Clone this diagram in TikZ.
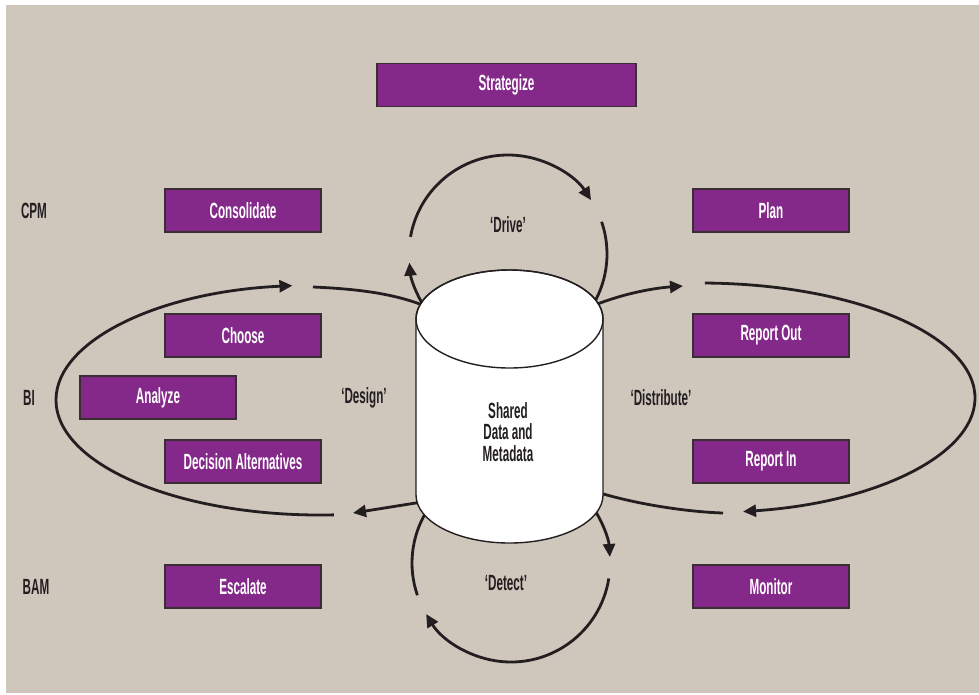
\documentclass[tikz,border=0pt]{standalone}
\usepackage{fontspec}
\setmainfont{Liberation Sans}[FakeStretch=0.53]
\usetikzlibrary{arrows.meta,calc}
\definecolor{bg}{HTML}{CFC6BC}
\definecolor{purp}{HTML}{84298A}
\definecolor{ink}{HTML}{231F20}
\definecolor{edgec}{HTML}{3A2E33}
\newcommand\diafont{\bfseries\fontsize{22}{21.5}\selectfont}
\begin{document}
\begin{tikzpicture}[x=1pt,y=-1pt,
  box/.style={draw=edgec, line width=1.3pt, fill=purp, text=white, minimum width=156pt, minimum height=43pt, inner sep=0pt, font=\diafont},
  lab/.style={text=ink, font=\diafont, inner sep=0pt},
  flow/.style={draw=ink, line width=2.8pt},
  arr/.style={flow, -{Triangle[length=13pt,width=12pt]}}]
\useasboundingbox (0,0) rectangle (979,694);
\fill[white] (0,0) rectangle (979,694);
\fill[bg] (6,5) rectangle (979,693);

% boxes
\node[box, minimum width=259pt] (strat) at (506.5,85) {Strategize};
\node[box] (cons) at (243,210.5) {Consolidate};
\node[box] (plan) at (771,210.5) {Plan};
\node[box] (choose) at (243,335.5) {Choose};
\node[box] (repout) at (771,335.5) {Report Out};
\node[box] (analyze) at (158,397.5) {Analyze};
\node[box] (decalt) at (243,461.5) {Decision Alternatives};
\node[box] (repin) at (771,461.5) {Report In};
\node[box] (escal) at (243,586.5) {Escalate};
\node[box] (monitor) at (771,586.5) {Monitor};

% row labels
\node[lab] (cpm) at (34,211) {CPM};
\node[lab] (bi) at (29,398) {BI};
\node[lab] (bam) at (36,587) {BAM};

% loop labels
\node[lab] (drive) at (508,225) {‘Drive’};
\node[lab] (design) at (364,398) {‘Design’};
\node[lab] (distr) at (661,398) {‘Distribute’};
\node[lab] (detect) at (506,583) {‘Detect’};

% centres of loops
\coordinate (dc) at (508,254);
\coordinate (tc) at (511,563);
\coordinate (lc) at (320,400);
\coordinate (rc) at (700,398);

% Drive loop
\draw[arr] ($(dc)+(148:99)$) arc[start angle=148,end angle=175,radius=99];
\draw[arr] ($(dc)+(190:99)$) arc[start angle=190,end angle=327,radius=99];
\draw[flow] ($(dc)+(341:99)$) arc[start angle=341,end angle=390,radius=99];

% Detect loop
\draw[arr] ($(tc)+(326:99)$) arc[start angle=326,end angle=356.5,radius=99];
\draw[arr] ($(tc)+(9:99)$) arc[start angle=9,end angle=149,radius=99];
\draw[flow] ($(tc)+(161:99)$) arc[start angle=161,end angle=212,radius=99];

% Design loop
\coordinate (lt1) at (313,287);
\coordinate (lt2) at (425,306);
\coordinate (lb1) at (422,502);
\coordinate (lb2) at (353,513);
\draw[arr] ($(lc)+(87:264 and 115)$) arc[start angle=87,end angle=264,x radius=264,y radius=115];
\draw[flow] (lt1) .. controls (360,289) and (395,294) .. (lt2);
\draw[arr] (lb1) -- (lb2);

% Distribute loop
\coordinate (rt1) at (595,305);
\coordinate (rt2) at (683,286);
\coordinate (rb1) at (600,493);
\coordinate (rb2) at (723,513);
\draw[arr] (rt1) .. controls (625,293) and (655,288) .. (rt2);
\draw[arr] ($(rc)+(271:275 and 115)$) arc[start angle=271,end angle=441,x radius=275,y radius=115];
\draw[flow] (rb1) .. controls (640,505) and (690,512) .. (rb2);

% cylinder
\filldraw[fill=white, draw=ink, line width=1.4pt]
  (416,319) -- (416,495) arc[start angle=180,end angle=0,x radius=93.5,y radius=48]
  -- (603,319) arc[start angle=0,end angle=-180,x radius=93.5,y radius=49] -- cycle;
\draw[ink, line width=1.4pt] (509.5,319) ellipse[x radius=93.5,y radius=49];
\node[lab, align=center] (db) at (508,432) {Shared\\Data and\\Metadata};
\end{tikzpicture}
\end{document}
